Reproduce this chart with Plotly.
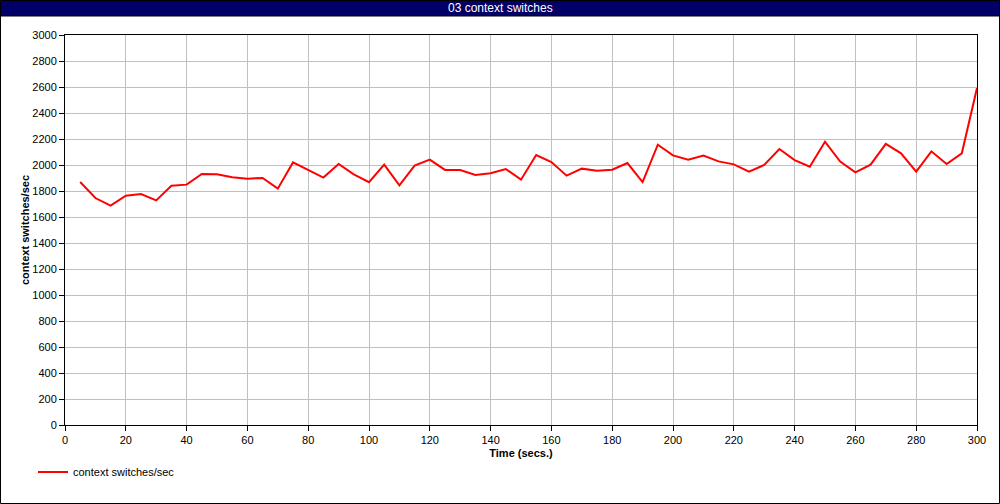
import plotly.graph_objects as go

time_s = list(range(5, 301, 5))
ctx_switches = [
    1869, 1746, 1687, 1764, 1777, 1728, 1841, 1849, 1931, 1928,
    1905, 1895, 1900, 1818, 2020, 1964, 1903, 2008, 1928, 1868,
    2003, 1844, 1995, 2041, 1962, 1962, 1923, 1936, 1969, 1887,
    2077, 2023, 1918, 1972, 1956, 1964, 2015, 1869, 2156, 2074,
    2041, 2072, 2028, 2005, 1949, 2000, 2123, 2038, 1987, 2179,
    2026, 1944, 2003, 2162, 2090, 1949, 2105, 2008, 2090, 2592,
]
series_name = "context switches/sec"
title_text = "03 context switches"
x_title = "Time (secs.)"
y_title = "context switches/sec"

W, H = 1000, 504
ML, MR, MT, MB = 65, 23, 35, 79
PW, PH = W - ML - MR, H - MT - MB

def px_x(p):
    return (p - ML) / PW

def px_y(p):
    return (H - MB - p) / PH

font = dict(family="Liberation Sans, Arial, sans-serif", size=11, color="black")

fig = go.Figure()
fig.add_trace(go.Scatter(
    x=time_s, y=ctx_switches, mode="lines", name=series_name,
    line=dict(color="#ff0000", width=2),
))

fig.update_layout(
    width=W, height=H,
    margin=dict(l=ML, r=MR, t=MT, b=MB, pad=0),
    paper_bgcolor="white", plot_bgcolor="white",
    font=font,
    showlegend=True,
    legend=dict(x=px_x(33), y=px_y(472), xanchor="left", yanchor="middle",
                orientation="h", bgcolor="rgba(0,0,0,0)", font=font,
                itemwidth=30),
    xaxis=dict(range=[0, 300], dtick=20, tick0=0, showgrid=True, gridcolor="#c0c0c0",
               gridwidth=1, showline=True, linecolor="black", linewidth=1, mirror=True,
               ticks="outside", ticklen=5, tickcolor="black", zeroline=False,
               title=dict(text="<b>" + x_title + "</b>", font=font, standoff=4)),
    yaxis=dict(range=[0, 3000], dtick=200, tick0=0, showgrid=True, gridcolor="#c0c0c0",
               gridwidth=1, showline=True, linecolor="black", linewidth=1, mirror=True,
               ticks="outside", ticklen=5, tickcolor="black", zeroline=False,
               title=dict(text="<b>" + y_title + "</b>", font=font, standoff=0)),
    shapes=[
        dict(type="rect", xref="paper", yref="paper",
             x0=px_x(0.5), x1=px_x(W - 0.5), y0=px_y(0.5), y1=px_y(16),
             fillcolor="#000066", line=dict(color="black", width=1), layer="above"),
        dict(type="rect", xref="paper", yref="paper",
             x0=px_x(0.5), x1=px_x(W - 0.5), y0=px_y(H - 0.5), y1=px_y(0.5),
             fillcolor="rgba(0,0,0,0)", line=dict(color="black", width=1), layer="above"),
    ],
    annotations=[
        dict(text=title_text, xref="paper", yref="paper", x=px_x(500), y=px_y(8),
             xanchor="center", yanchor="middle", showarrow=False,
             font=dict(family="Liberation Sans, Arial, sans-serif", size=12, color="white")),
    ],
)

fig.write_html("out.html", config={"displayModeBar": False},
               post_script="document.body.style.margin='0';document.body.style.overflow='hidden';")
